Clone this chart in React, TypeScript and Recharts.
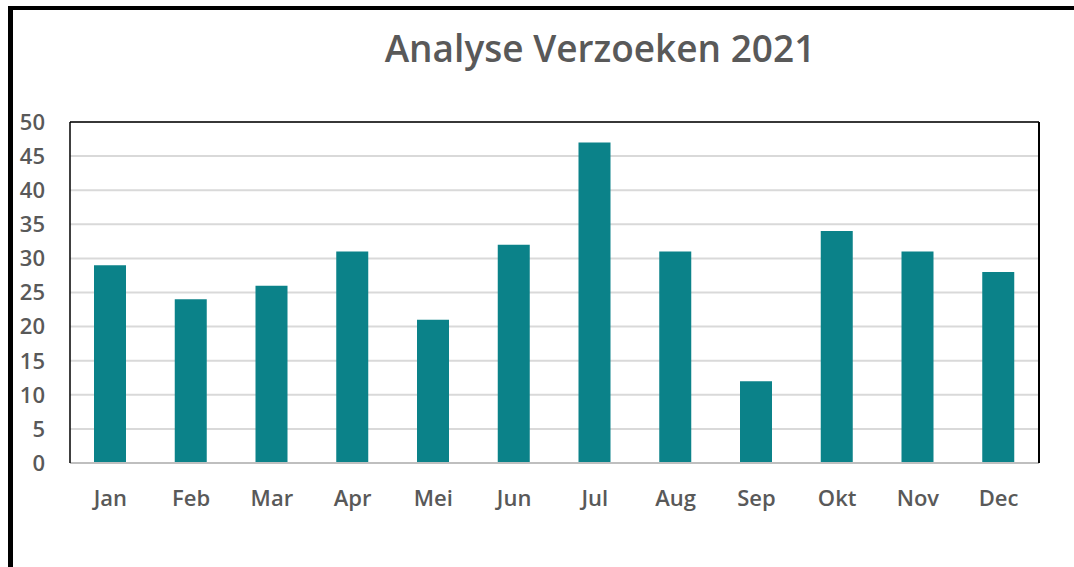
import React from 'react';
import { BarChart, Bar, XAxis, YAxis, CartesianGrid, ReferenceLine } from 'recharts';

const months = ['Jan', 'Feb', 'Mar', 'Apr', 'Mei', 'Jun', 'Jul', 'Aug', 'Sep', 'Okt', 'Nov', 'Dec'];
const requests = [29, 24, 26, 31, 21, 32, 47, 31, 12, 34, 31, 28];
const yTicks = [0, 5, 10, 15, 20, 25, 30, 35, 40, 45, 50];

const chartData = months.map((month, i) => ({ month, value: requests[i] }));

const textColor = '#595959';
const font = '"Open Sans", sans-serif';
const tickStyle = { fill: textColor, fontSize: 22, fontWeight: 600, fontFamily: font };

const App: React.FC = () => {
  return (
    <div style={{ position: 'absolute', left: 0, top: 0, width: 1074, height: 567, overflow: 'hidden', background: '#fff' }}>
      {/* outer frame, runs off the right and bottom edge */}
      <div style={{ position: 'absolute', left: 8, top: 6, width: 2000, height: 2000, borderLeft: '5px solid #000', borderTop: '4px solid #000' }} />
      <div style={{ position: 'absolute', left: 0, top: 0 }}>
        <BarChart width={1074} height={567} data={chartData} margin={{ top: 122, right: 34, bottom: 74, left: 10 }}>
          <text x={600} y={62} textAnchor="middle" fill={textColor} fontSize={37} fontWeight={600} fontFamily={font}>
            Analyse Verzoeken 2021
          </text>
          <CartesianGrid yAxisId="left" vertical={false} stroke="#d9d9d9" strokeWidth={2} />
          <XAxis
            dataKey="month"
            height={30}
            tickLine={false}
            tickSize={0}
            tickMargin={27}
            axisLine={{ stroke: '#bfbfbf', strokeWidth: 2 }}
            tick={tickStyle}
          />
          <YAxis
            yAxisId="left"
            width={60}
            domain={[0, 50]}
            ticks={yTicks}
            interval={0}
            tickLine={false}
            tickSize={0}
            tickMargin={25}
            axisLine={{ stroke: '#000', strokeWidth: 1.5 }}
            tick={tickStyle}
          />
          <YAxis
            yAxisId="right"
            orientation="right"
            width={1}
            domain={[0, 50]}
            tick={false}
            tickLine={false}
            axisLine={{ stroke: '#000', strokeWidth: 2 }}
          />
          <ReferenceLine yAxisId="left" y={50} stroke="#000" strokeWidth={1.5} />
          <Bar yAxisId="left" dataKey="value" fill="#0b8289" barSize={32} isAnimationActive={false} />
        </BarChart>
      </div>
    </div>
  );
};

export default App;
